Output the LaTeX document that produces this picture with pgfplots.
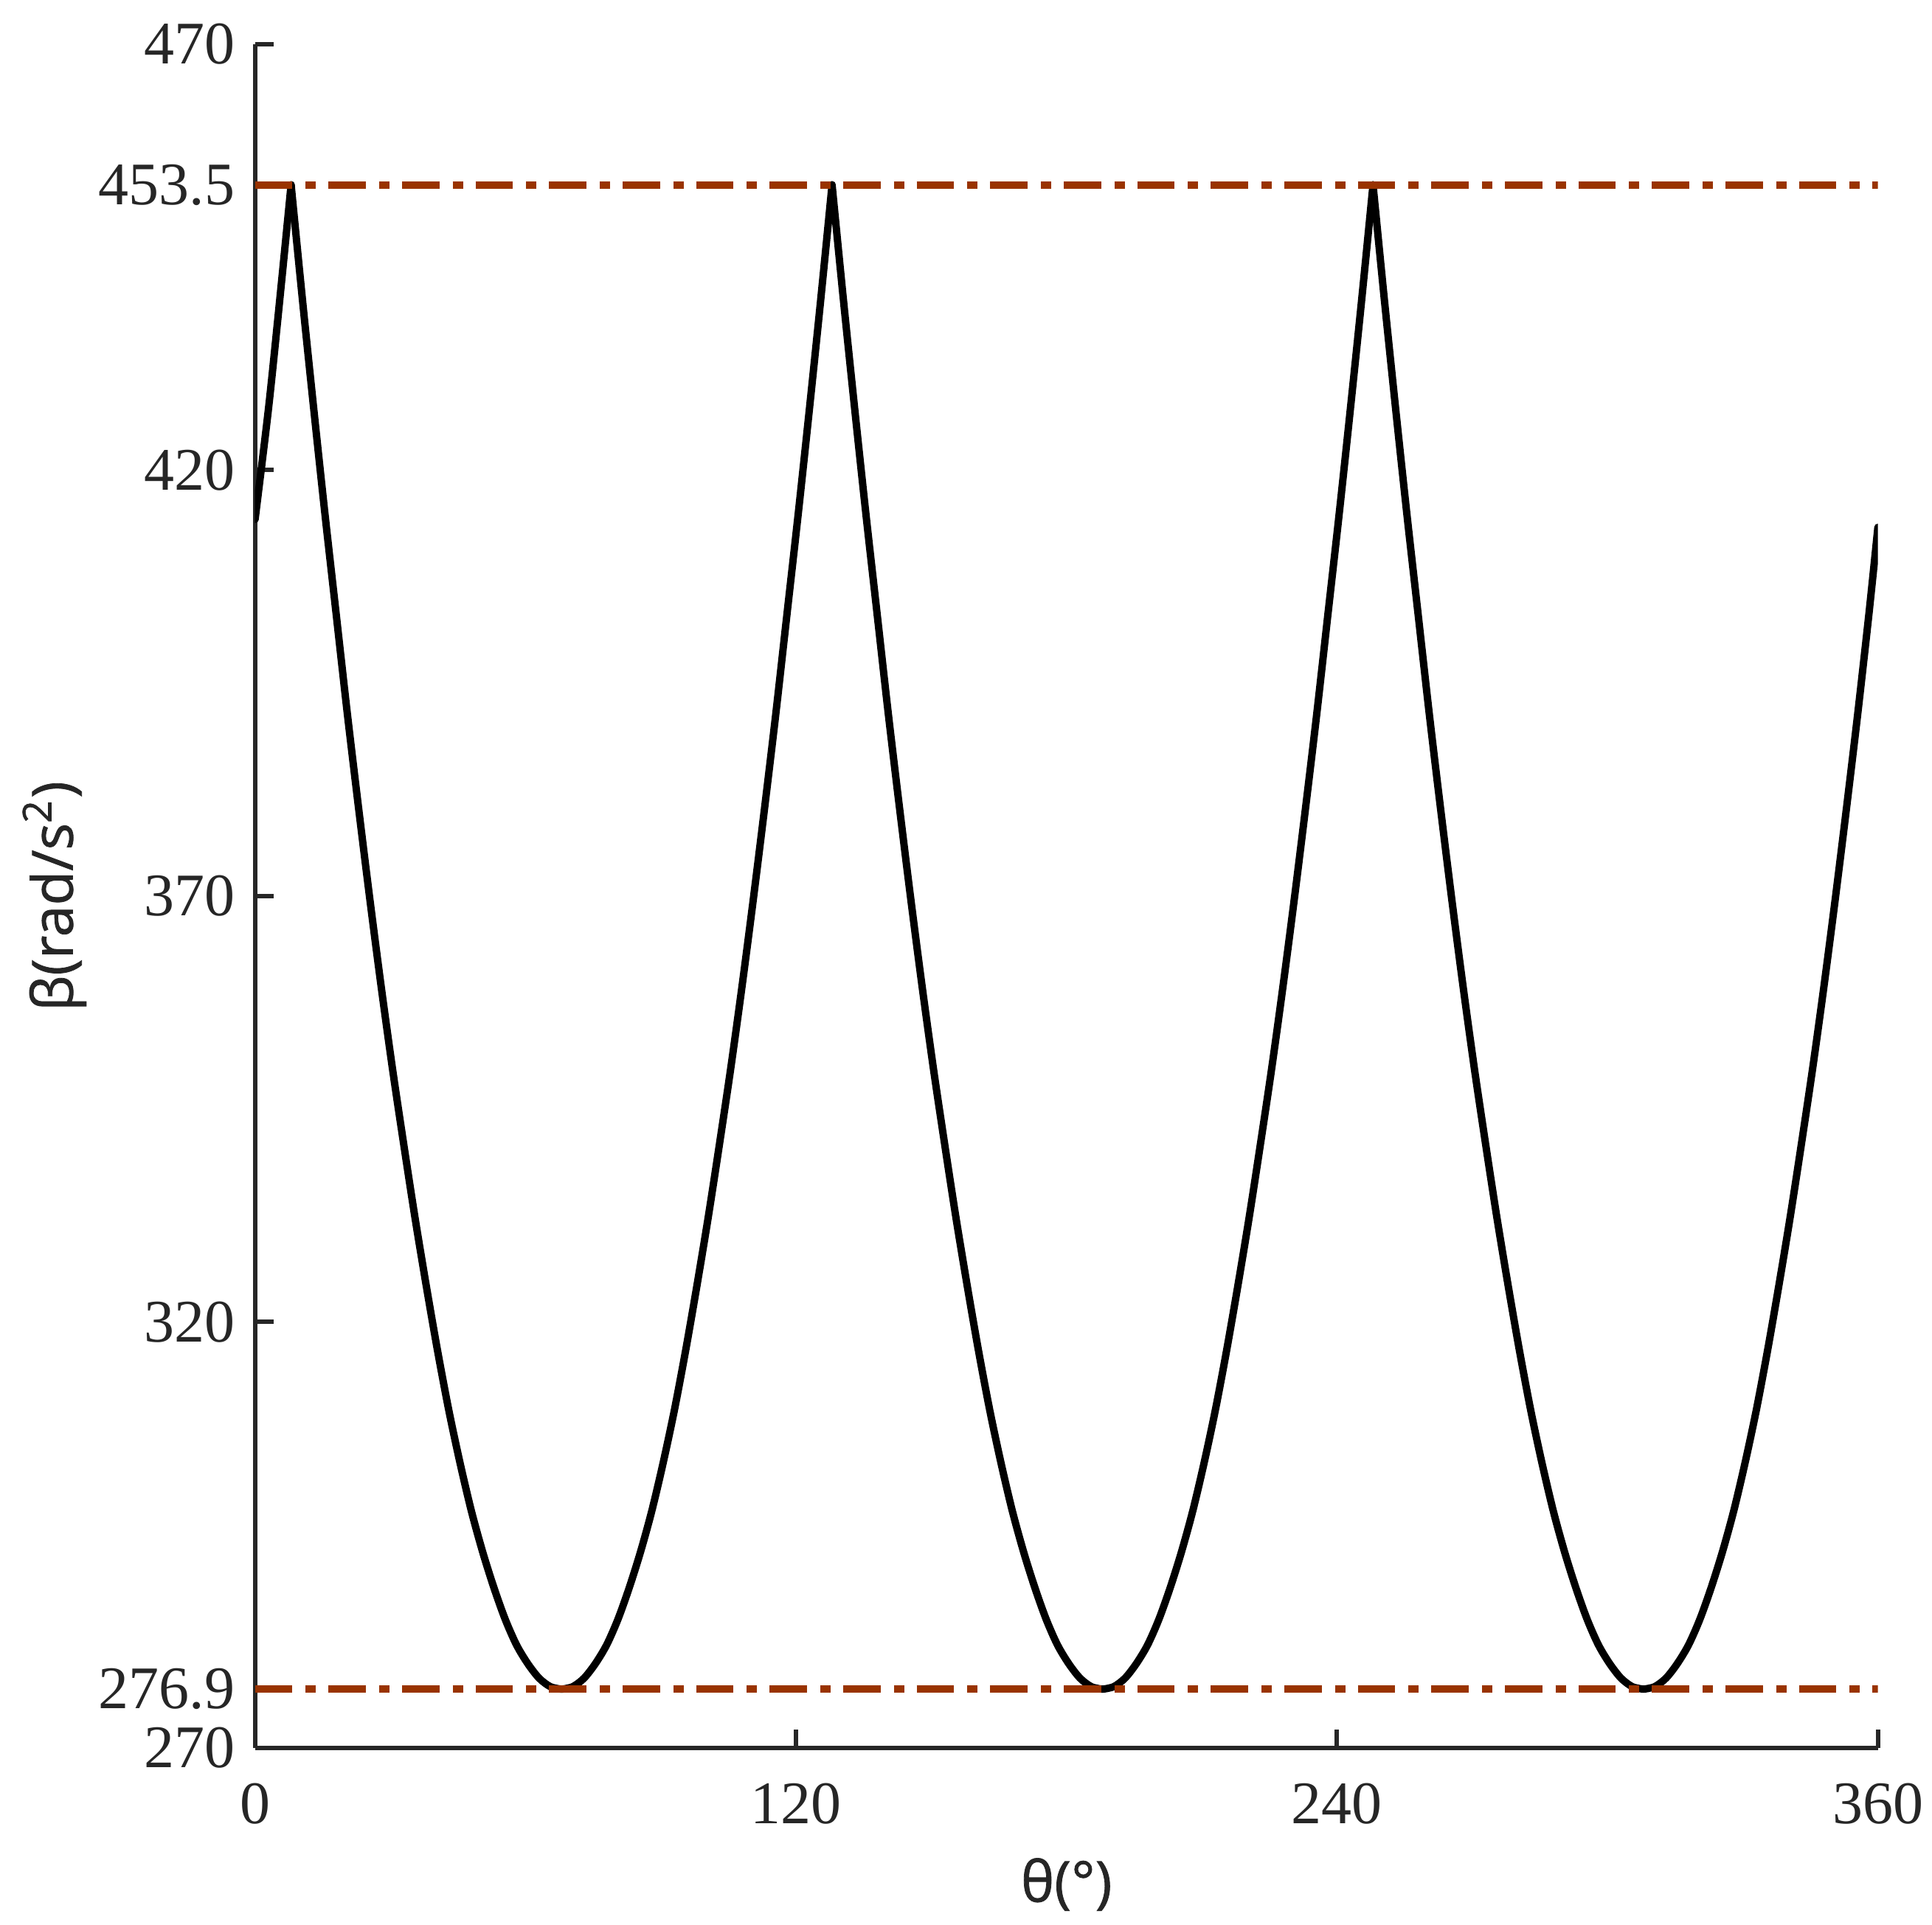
\documentclass[border=0pt]{standalone}
\usepackage{fontspec}
\setmainfont{Liberation Serif}
\newfontfamily\labelfont{Open Sans}[FakeBold=1]
\usepackage{pgfplots}
\pgfplotsset{compat=1.18}
\definecolor{axgray}{RGB}{38,38,38}
\definecolor{limred}{RGB}{153,51,0}
\pgfplotsset{curve/.style={black, line width=1.5pt, smooth, tension=0.5, line cap=round, line join=round},
  limit/.style={limred, line width=1.5pt, dash pattern=on 7.6pt off 2.7pt on 2.1pt off 2.55pt}}
\begin{document}
\begin{tikzpicture}
\useasboundingbox (-51.86pt,-36pt) rectangle (341pt,355.5pt);
\begin{axis}[
  scale only axis, width=330pt, height=346.5pt,
  xmin=0, xmax=360, ymin=270, ymax=470,
  axis lines*=left,
  axis line style={axgray, line width=0.9pt, -},
  tick align=inside, major tick length=3.75pt,
  tick style={axgray, line width=0.9pt},
  xtick={0,120,240,360}, xticklabels={0,120,240,360},
  ytick={270,276.9,320,370,420,453.5,470},
  yticklabels={270,276.9,320,370,420,453.5,470},
  tick label style={font=\fontsize{12.3}{14}\selectfont, text=axgray},
  xticklabel style={yshift=-3.6pt},
  yticklabel style={xshift=-0.6pt},
  xlabel={θ(°)}, ylabel={β(rad/s\textsuperscript{2})},
  label style={font=\labelfont\fontsize{11.5}{14}\selectfont, text=axgray},
  xlabel style={at={(axis description cs:0.5,-0.0801)}, anchor=center},
  ylabel style={at={(axis description cs:-0.1236,0.5)}, anchor=center},
]
% rising 0 -> 8
\addplot[curve] coordinates {(0,414.2) (3,427.3) (5.5,440.1) (8,453.5)};
% falling 8 -> 68
\addplot[curve] coordinates {
(8,453.5) (10.5,440.1) (13,427.3) (15.5,414.9) (18,403.1) (20.5,391.3) (23,380.2) (25.5,369.5) (28,359.3)
(30.5,349.7) (33,340.8) (35.5,332.2) (38,324.2) (40.5,316.6) (43,309.6) (45.5,303.4) (48,297.8)
(50.5,293.0) (53,288.8) (55.5,285.1) (58,282.1) (60.5,279.9) (63,278.2) (65.5,277.2) (68,276.9)};
% rising 68 -> 128
\addplot[curve] coordinates {
(68,276.9) (70.5,277.2) (73,278.2) (75.5,279.9) (78,282.1) (80.5,285.1) (83,288.8) (85.5,293.0) (88,297.8)
(90.5,303.4) (93,309.6) (95.5,316.6) (98,324.2) (100.5,332.2) (103,340.8) (105.5,349.7) (108,359.3)
(110.5,369.5) (113,380.2) (115.5,391.3) (118,403.1) (120.5,414.9) (123,427.3) (125.5,440.1) (128,453.5)};
% falling 128 -> 188
\addplot[curve] coordinates {
(128,453.5) (130.5,440.1) (133,427.3) (135.5,414.9) (138,403.1) (140.5,391.3) (143,380.2) (145.5,369.5) (148,359.3)
(150.5,349.7) (153,340.8) (155.5,332.2) (158,324.2) (160.5,316.6) (163,309.6) (165.5,303.4) (168,297.8)
(170.5,293.0) (173,288.8) (175.5,285.1) (178,282.1) (180.5,279.9) (183,278.2) (185.5,277.2) (188,276.9)};
% rising 188 -> 248
\addplot[curve] coordinates {
(188,276.9) (190.5,277.2) (193,278.2) (195.5,279.9) (198,282.1) (200.5,285.1) (203,288.8) (205.5,293.0) (208,297.8)
(210.5,303.4) (213,309.6) (215.5,316.6) (218,324.2) (220.5,332.2) (223,340.8) (225.5,349.7) (228,359.3)
(230.5,369.5) (233,380.2) (235.5,391.3) (238,403.1) (240.5,414.9) (243,427.3) (245.5,440.1) (248,453.5)};
% falling 248 -> 308
\addplot[curve] coordinates {
(248,453.5) (250.5,440.1) (253,427.3) (255.5,414.9) (258,403.1) (260.5,391.3) (263,380.2) (265.5,369.5) (268,359.3)
(270.5,349.7) (273,340.8) (275.5,332.2) (278,324.2) (280.5,316.6) (283,309.6) (285.5,303.4) (288,297.8)
(290.5,293.0) (293,288.8) (295.5,285.1) (298,282.1) (300.5,279.9) (303,278.2) (305.5,277.2) (308,276.9)};
% rising 308 -> 360
\addplot[curve] coordinates {
(308,276.9) (310.5,277.2) (313,278.2) (315.5,279.9) (318,282.1) (320.5,285.1) (323,288.8) (325.5,293.0) (328,297.8)
(330.5,303.4) (333,309.6) (335.5,316.6) (338,324.2) (340.5,332.2) (343,340.8) (345.5,349.7) (348,359.3)
(350.5,369.5) (353,380.2) (355.5,391.3) (358,403.1) (360,413.3)};
\addplot[limit] coordinates {(0,453.5) (360,453.5)};
\addplot[limit] coordinates {(0,276.9) (360,276.9)};
\end{axis}
\end{tikzpicture}
\end{document}
